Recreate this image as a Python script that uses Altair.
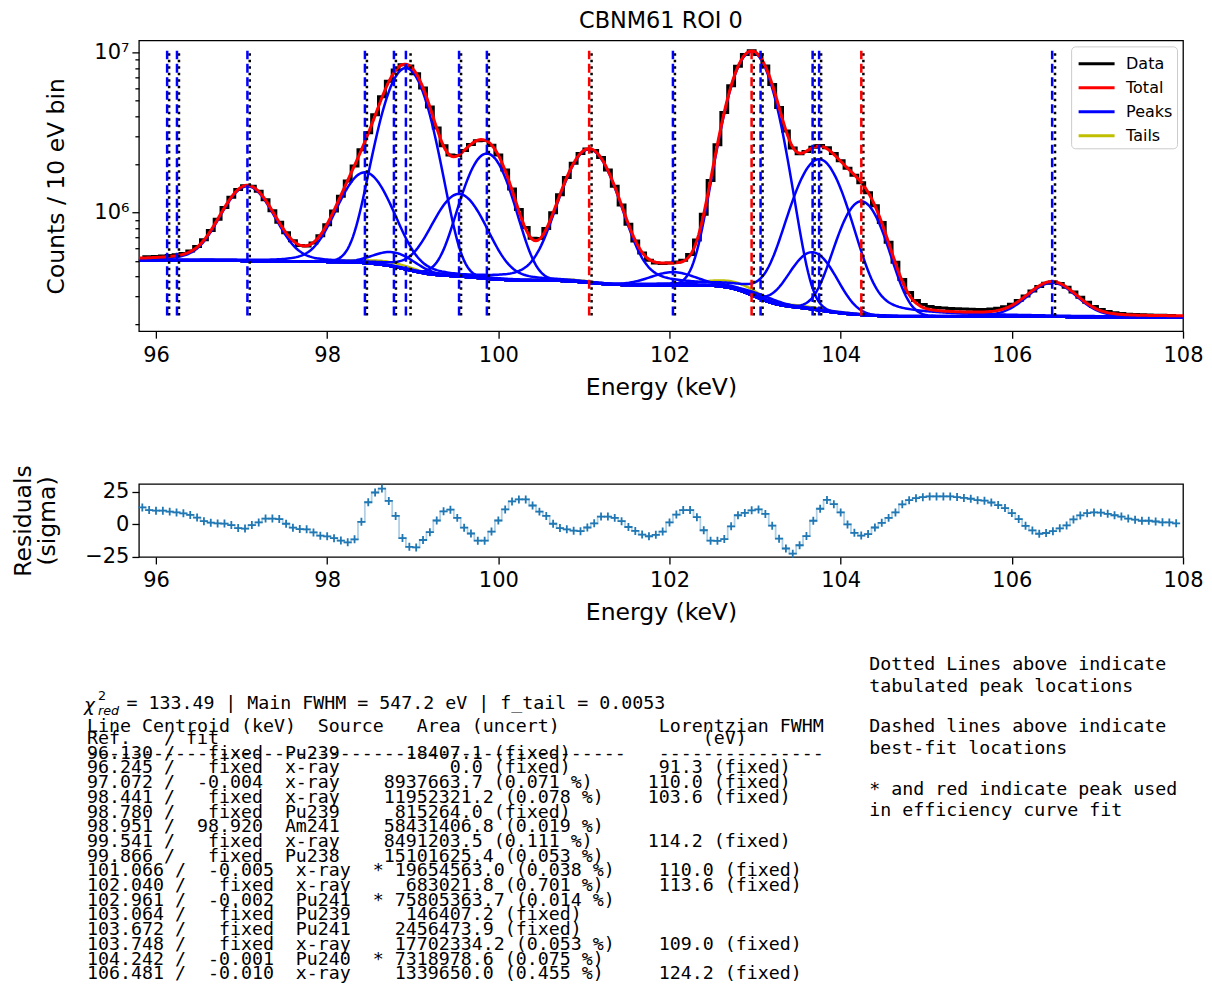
import math
import numpy as np
import pandas as pd
import altair as alt

# ---------------- values (fit table) ----------------
REF_KEV = [96.130, 96.245, 97.072, 98.441, 98.780, 98.951, 99.541, 99.866,
           101.066, 102.040, 102.961, 103.064, 103.672, 103.748, 104.242, 106.481]
FIT_TEXT = ["fixed", "fixed", "-0.004", "fixed", "fixed", "98.920", "fixed", "fixed",
            "-0.005", "fixed", "-0.002", "fixed", "fixed", "fixed", "-0.001", "-0.010"]
FIT_KEV = [96.130, 96.245, 97.068, 98.441, 98.780, 98.920, 99.541, 99.866,
           101.061, 102.040, 102.959, 103.064, 103.672, 103.748, 104.241, 106.471]
SOURCE = ["Pu239", "x-ray", "x-ray", "x-ray", "Pu239", "Am241", "x-ray", "Pu238",
          "x-ray", "x-ray", "Pu241", "Pu239", "Pu241", "x-ray", "Pu240", "x-ray"]
AREA = [18407.1, 0.0, 8937663.7, 11952321.2, 815264.0, 58431406.8, 8491203.5, 15101625.4,
        19654563.0, 683021.8, 75805363.7, 146407.2, 2456473.9, 17702334.2, 7318978.6, 1339650.0]
UNCERT = ["fixed", "fixed", "0.071 %", "0.078 %", "fixed", "0.019 %", "0.111 %", "0.053 %",
          "0.038 %", "0.701 %", "0.014 %", "fixed", "fixed", "0.053 %", "0.075 %", "0.455 %"]
EFFICIENCY = [False, False, False, False, False, False, False, False,
              True, False, True, False, False, False, True, False]
LORENTZ_EV = [None, 91.3, 110.0, 103.6, None, None, 114.2, None,
              110.0, 113.6, None, None, None, 109.0, None, 124.2]

CHI2_RED = "133.49"
MAIN_FWHM_EV = 547.2
F_TAIL = 0.0053

# residuals (sigma), one per 80 eV bin starting at 95.84 keV
RESID = [13, 11, 10.5, 10.5, 9.8, 9.2, 8.5, 7.3, 5.2, 2.5,
         1.3, 0.7, 0.6, -0.5, -2.8, -3.2, -0.5, 1.5, 4.5, 4.5,
         4.1, 0.5, -2.5, -3.6, -3.8, -6.2, -8.7, -9.2, -10.6, -12.4,
         -13.8, -11.5, 2.0, 17, 24.5, 27.5, 18, 6.5, -10.5, -17.2,
         -17.7, -12, -6, 3, 10, 11.3, 5, -2.5, -7, -12.5,
         -12.5, -5.5, 3, 11.5, 17.6, 19.2, 19.2, 14.5, 9.8, 6.5,
         0.5, -2.8, -3.8, -4.8, -5.2, -2.4, 0.8, 6, 6, 5,
         2.5, -2, -5, -7.8, -9.1, -8, -5.5, 1.5, 7.5, 11,
         11, 5.5, -4.5, -12.5, -12.6, -11.3, -1.5, 7, 8.8, 10.8,
         11.5, 8, -1, -11, -18.5, -22.5, -16, -9, 2.8, 12,
         18.8, 15.5, 9.2, 0, -6.5, -8.6, -7.4, -2.4, 1.2, 5,
         9.2, 15.4, 18.6, 20.1, 20.9, 21.5, 21.5, 21.5, 21.5, 21,
         20.3, 19.7, 18.6, 18.2, 16.8, 14.8, 12.5, 8.7, 4.1, -1.1,
         -4.6, -7.2, -6.6, -5.2, -3, -0.8, 3.8, 6.9, 8.6, 9.2,
         9, 8.1, 7, 6, 4.5, 3.6, 2.8, 2.8, 2.2, 1.6,
         1.5, 0.8]
BIN_START_KEV = 95.84
BIN_STEP_KEV = 0.08

# background levels read at the two ends of the spectrum, and display scale
BG_LOW_E = 5.04e5
BG_HIGH_E = 2.23e5
COUNTS_PER_AREA = 0.0753
TAIL_SLOPE_KEV = 0.35

NOTES = ["Dotted Lines above indicate", "tabulated peak locations",
         "Dashed lines above indicate", "best-fit locations",
         "* and red indicate peak used", "in efficiency curve fit"]

# ---------------- fit model evaluated from the table values ----------------
FWHM_G = MAIN_FWHM_EV / 1000.0
SIG = FWHM_G / (2 * math.sqrt(2 * math.log(2)))
erfc = np.vectorize(math.erfc)


def line_shape(E, c, fl):
    if not fl:
        return np.exp(-0.5 * ((E - c) / SIG) ** 2) / (SIG * math.sqrt(2 * math.pi))
    fg = FWHM_G
    f = (fg**5 + 2.69269 * fg**4 * fl + 2.42843 * fg**3 * fl**2 + 4.47163 * fg**2 * fl**3
         + 0.07842 * fg * fl**4 + fl**5) ** 0.2
    r = fl / f
    eta = 1.36603 * r - 0.47719 * r**2 + 0.11116 * r**3
    g = math.sqrt(4 * math.log(2) / math.pi) / f * np.exp(-4 * math.log(2) * ((E - c) / f) ** 2)
    l = (f / (2 * math.pi)) / ((E - c) ** 2 + (f / 2) ** 2)
    return eta * l + (1 - eta) * g


def tail_shape(E, c):
    x = E - c
    b = TAIL_SLOPE_KEV
    return (1 / (2 * b)) * np.exp(x / b + SIG**2 / (2 * b**2)) * erfc(
        x / (math.sqrt(2) * SIG) + SIG / (math.sqrt(2) * b))


def model(E):
    tot_area = sum(AREA)
    bg = np.full_like(E, BG_HIGH_E, dtype=float)
    for c, a in zip(FIT_KEV, AREA):
        bg = bg + (BG_LOW_E - BG_HIGH_E) * a / tot_area * 0.5 * erfc((E - c) / (math.sqrt(2) * SIG))
    pks, tls = [], []
    for c, a, lz in zip(FIT_KEV, AREA, LORENTZ_EV):
        fl = (lz or 0) / 1000.0
        pks.append(a * COUNTS_PER_AREA * line_shape(E, c, fl))
        tls.append(F_TAIL * a * COUNTS_PER_AREA * tail_shape(E, c))
    total = bg + sum(pks) + sum(tls)
    return bg, pks, tls, total


E_FINE = np.round(np.arange(95.80, 108.0001, 0.02), 4)
bg_f, pks_f, tls_f, tot_f = model(E_FINE)

E_BIN = np.round(BIN_START_KEV + BIN_STEP_KEV * np.arange(len(RESID)), 4)
_, _, _, tot_b = model(E_BIN)
data_counts = tot_b + np.array(RESID) * np.sqrt(tot_b)

df_data = pd.DataFrame({"E": E_BIN, "counts": data_counts, "series": "Data"})
df_total = pd.DataFrame({"E": E_FINE, "counts": tot_f, "series": "Total"})
df_peaks = pd.concat([pd.DataFrame({"E": E_FINE, "counts": bg_f + p, "peak": i, "series": "Peaks"})
                      for i, p in enumerate(pks_f)], ignore_index=True)
df_tails = pd.concat([pd.DataFrame({"E": E_FINE, "counts": bg_f + t, "peak": i, "series": "Tails"})
                      for i, t in enumerate(tls_f) if AREA[i] > 0], ignore_index=True)
lo, hi = float(data_counts.min()), float(data_counts.max())
df_ref = pd.DataFrame({"E": REF_KEV, "lo": lo, "hi": hi})
df_fit = pd.DataFrame({"E": FIT_KEV, "lo": lo, "hi": hi, "eff": EFFICIENCY})
df_res = pd.DataFrame({"E": E_BIN, "r": RESID})

# ---------------- encodings ----------------
W = 1045
H_TOP = 291
H_RES = 73
XTICKS = list(range(96, 109, 2))
YTICKS = [2e5, 3e5, 4e5, 5e5, 6e5, 7e5, 8e5, 9e5, 1e6, 2e6, 3e6, 4e6, 5e6, 6e6, 7e6, 8e6, 9e6, 1e7]

x_scale = alt.Scale(domain=[95.8, 108], nice=False, zero=False)
x_axis = alt.Axis(values=XTICKS, format="d", title="Energy (keV)", labelFlush=False,
                  tickSize=7, labelPadding=6, titlePadding=10)
X = alt.X("E:Q", scale=x_scale, axis=x_axis)

y_scale = alt.Scale(type="log", domain=[1.82e5, 1.19e7], nice=False)
y_axis = alt.Axis(values=YTICKS, title="Counts / 10 eV bin",
                  labelExpr="datum.value == 1000000 ? '10⁶' : (datum.value == 10000000 ? '10⁷' : '')",
                  tickSize={"condition": {"test": "datum.value == 1000000 || datum.value == 10000000",
                                          "value": 7}, "value": 4},
                  labelPadding=3, titlePadding=25, labelOverlap=False)
Y = alt.Y("counts:Q", scale=y_scale, axis=y_axis)

color = alt.Color("series:N",
                  scale=alt.Scale(domain=["Data", "Total", "Peaks", "Tails"],
                                  range=["black", "#ff0000", "#0000ff", "#bfbf00"]),
                  legend=alt.Legend(title=None, orient="top-right", offset=6,
                                    symbolType="M-1.5,0L1.5,0", symbolSize=576,
                                    symbolStrokeWidth=3, symbolOffset=8, rowPadding=2,
                                    labelFont="DejaVu Sans", labelFontSize=16, labelColor="black",
                                    labelOffset=16, padding=4, fillColor="rgba(255,255,255,0.8)",
                                    strokeColor="#cccccc", cornerRadius=4))

data_layer = alt.Chart(df_data).mark_line(interpolate="step", strokeWidth=3, clip=True).encode(
    x=X, y=Y, color=color)
tails_layer = alt.Chart(df_tails).mark_line(strokeWidth=2.5, clip=True).encode(
    x=X, y=Y, color=color, detail="peak:N")
peaks_layer = alt.Chart(df_peaks).mark_line(strokeWidth=2.5, clip=True).encode(
    x=X, y=Y, color=color, detail="peak:N")
total_layer = alt.Chart(df_total).mark_line(strokeWidth=3, clip=True).encode(
    x=X, y=Y, color=color)

Y_LO = alt.Y("lo:Q", scale=y_scale, axis=y_axis)
ref_layer = alt.Chart(df_ref).mark_rule(color="black", strokeWidth=2.5, strokeDash=[2.5, 4],
                                        xOffset=2).encode(x=X, y=Y_LO, y2="hi:Q")
fit_blue = alt.Chart(df_fit).transform_filter("!datum.eff").mark_rule(
    color="#0000ff", strokeWidth=2.5, strokeDash=[9, 4.5]).encode(x=X, y=Y_LO, y2="hi:Q")
fit_red = alt.Chart(df_fit).transform_filter("datum.eff").mark_rule(
    color="#ff0000", strokeWidth=2.5, strokeDash=[9, 4.5]).encode(x=X, y=Y_LO, y2="hi:Q")

top = alt.layer(data_layer, tails_layer, peaks_layer, total_layer, ref_layer, fit_blue, fit_red).properties(
    width=W, height=H_TOP,
    title=alt.TitleParams("CBNM61 ROI 0", font="DejaVu Sans", fontSize=22.4, fontWeight="normal",
                          color="black", offset=8, anchor="middle"))

# ---------------- residual panel ----------------
XR = alt.X("E:Q", scale=x_scale, axis=x_axis)
YR = alt.Y("r:Q", scale=alt.Scale(domain=[-25, 31], nice=False, zero=False),
           axis=alt.Axis(values=[-25, 0, 25], title=["Residuals", "(sigma)"],
                         labelExpr="replace(datum.label, '-', '−')", tickSize=7,
                         labelPadding=3, titlePadding=25, titleLineHeight=24))
res_step = alt.Chart(df_res).mark_line(interpolate="step", color="#1f77b4", opacity=0.35,
                                       strokeWidth=1.8).encode(x=XR, y=YR)
res_pts = alt.Chart(df_res).mark_point(shape="M-1,0L1,0M0,-1L0,1", size=64, filled=False,
                                       color="#1f77b4", strokeWidth=1.8, opacity=1).encode(x=XR, y=YR)

# ---------------- text block (placed relative to the residual panel) ----------------
PLOT_LEFT = 137
RES_TOP = 483
FS = 18.3
ONE = pd.DataFrame({"k": [0]})


def txt(s, x, y, font="DejaVu Sans Mono", size=FS, style="normal"):
    return alt.Chart(ONE).mark_text(
        text=s.replace(" ", "\u00a0"), align="left", baseline="middle", font=font,
        fontSize=size, fontStyle=style, color="black").encode(
        x=alt.value(x - PLOT_LEFT), y=alt.value(y - RES_TOP))


texts = []
TX = 85
texts.append(txt("χ", 82, 705, font="DejaVu Sans", style="italic"))
texts.append(txt("2", 96, 695, font="DejaVu Sans", size=12.8))
texts.append(txt("red", 96, 710, font="DejaVu Sans", size=12.8, style="italic"))
texts.append(txt(f"= {CHI2_RED} | Main FWHM = {MAIN_FWHM_EV:.1f} eV | f_tail = {F_TAIL:.4f}", 124.5, 703))
texts.append(txt("Line Centroid (keV)  Source   Area (uncert)".ljust(52) + "Lorentzian FWHM", TX, 726))
texts.append(txt(" Ref.   / fit".ljust(57) + "(eV)", TX, 738))
texts.append(txt("-" * 49 + "   " + "-" * 15, TX, 753))
ROW0, ROWSTEP = 753, 14.71
for i in range(len(REF_KEV)):
    star = "*" if EFFICIENCY[i] else " "
    row = f"{REF_KEV[i]:7.3f} / {FIT_TEXT[i]:>7s}  {SOURCE[i]:<5s}  {star} {AREA[i]:9.1f} ({UNCERT[i]})"
    if LORENTZ_EV[i] is not None:
        row = row.ljust(52) + f"{LORENTZ_EV[i]:5.1f} (fixed)"
    texts.append(txt(row, TX, ROW0 + ROWSTEP * i))
NOTE_Y = [664, 686, 726, 748, 789, 810]
for s, y in zip(NOTES, NOTE_Y):
    texts.append(txt(s, 868, y))

resid = alt.layer(res_step, res_pts, *texts).properties(width=W, height=H_RES)

chart = alt.vconcat(top, resid, spacing=64).properties(
    padding={"left": 3, "right": 0, "top": 0, "bottom": 0}
).configure_view(stroke="black", strokeWidth=1.3).configure_axis(
    grid=False, domain=False, labelFont="DejaVu Sans", labelFontSize=21, labelColor="black",
    titleFont="DejaVu Sans", titleFontSize=23.5, titleFontWeight="normal", titleColor="black",
    tickColor="black", tickWidth=1.3)

chart.save("out.html", embed_options={"renderer": "svg", "actions": False})
